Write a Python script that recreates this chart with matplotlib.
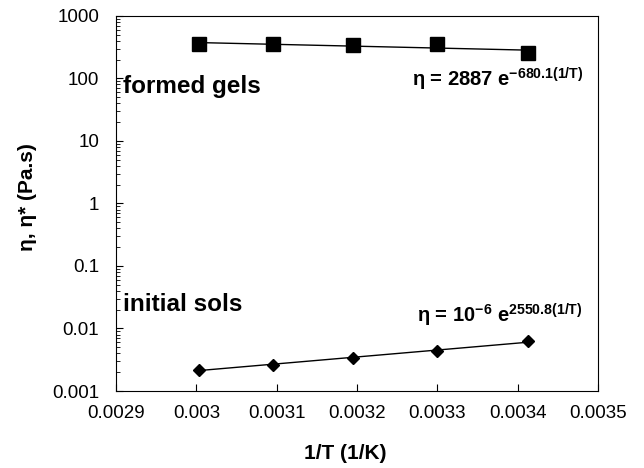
import numpy as np
import matplotlib.pyplot as plt
from matplotlib.ticker import LogLocator, FixedLocator

plt.rcParams['font.family'] = ['Liberation Sans', 'DejaVu Sans']
plt.rcParams['mathtext.fontset'] = 'custom'
plt.rcParams['mathtext.rm'] = 'Liberation Sans'
plt.rcParams['mathtext.bf'] = 'Liberation Sans:bold'
plt.rcParams['mathtext.it'] = 'Liberation Sans:italic'

# 1/T values (1/K)
inv_T = [0.003003, 0.003096, 0.003195, 0.003300, 0.003413]
# viscosity of formed gels and initial sols (Pa.s)
eta_gels = [360, 350, 340, 350, 255]
eta_sols = [0.0022, 0.0026, 0.0034, 0.0044, 0.0062]
# exponential trend line coefficients: eta = A * exp(B * (1/T))
fit_gels = (2887, -680.1)
fit_sols = (1e-6, 2550.8)

x_ticks = [0.0029, 0.003, 0.0031, 0.0032, 0.0033, 0.0034, 0.0035]
x_labels = ['0.0029', '0.003', '0.0031', '0.0032', '0.0033', '0.0034', '0.0035']
y_ticks = [0.001, 0.01, 0.1, 1, 10, 100, 1000]
y_labels = ['0.001', '0.01', '0.1', '1', '10', '100', '1000']

fig = plt.figure(figsize=(6.44, 4.68), dpi=100)
ax = fig.add_axes([0.180, 0.1645, 0.749, 0.8015])

xs = np.array(inv_T)
xfit = np.linspace(xs[0], xs[-1], 50)
ax.plot(xfit, fit_gels[0] * np.exp(fit_gels[1] * xfit), color='black', lw=1)
ax.plot(xfit, fit_sols[0] * np.exp(fit_sols[1] * xfit), color='black', lw=1)
ax.plot(inv_T, eta_gels, 's', color='black', ms=9.5, zorder=3)
ax.plot(inv_T, eta_sols, 'D', color='black', ms=6.5, zorder=3)

ax.set_yscale('log')
ax.set_xlim(0.0029, 0.0035)
ax.set_ylim(0.001, 1000)
ax.xaxis.set_major_locator(FixedLocator(x_ticks))
ax.set_xticklabels(x_labels)
ax.yaxis.set_major_locator(FixedLocator(y_ticks))
ax.set_yticklabels(y_labels)
ax.yaxis.set_minor_locator(LogLocator(base=10, subs=np.arange(2, 10)))
ax.tick_params(axis='both', which='major', direction='in', length=5, width=0.8,
               labelsize=13.5, color='black')
ax.tick_params(axis='y', which='minor', direction='in', length=3, width=0.6)
ax.tick_params(axis='x', which='major', pad=10)
ax.tick_params(axis='y', which='major', pad=12)

ax.set_xlabel('1/T (1/K)', fontsize=15, fontweight='bold')
ax.xaxis.set_label_coords(0.475, -0.14)
ax.set_ylabel('η, η* (Pa.s)', fontsize=15, fontweight='bold')
ax.yaxis.set_label_coords(-0.164, 0.517)

ax.text(0.0029 + 0.0000085, 73, 'formed gels', fontsize=17.5, fontweight='bold',
        va='center', ha='left')
ax.text(0.0029 + 0.0000085, 0.024, 'initial sols', fontsize=17.5, fontweight='bold',
        va='center', ha='left')
ax.text(0.003481, 73, 'η = 2887 e$^{\\mathbf{-680.1(1/T)}}$', fontsize=14.5,
        fontweight='bold', ha='right', va='baseline')
ax.text(0.003481, 0.0124, 'η = 10$^{\\mathbf{-6}}$ e$^{\\mathbf{2550.8(1/T)}}$', fontsize=14.5,
        fontweight='bold', ha='right', va='baseline')

plt.savefig('out.png', dpi=100)
